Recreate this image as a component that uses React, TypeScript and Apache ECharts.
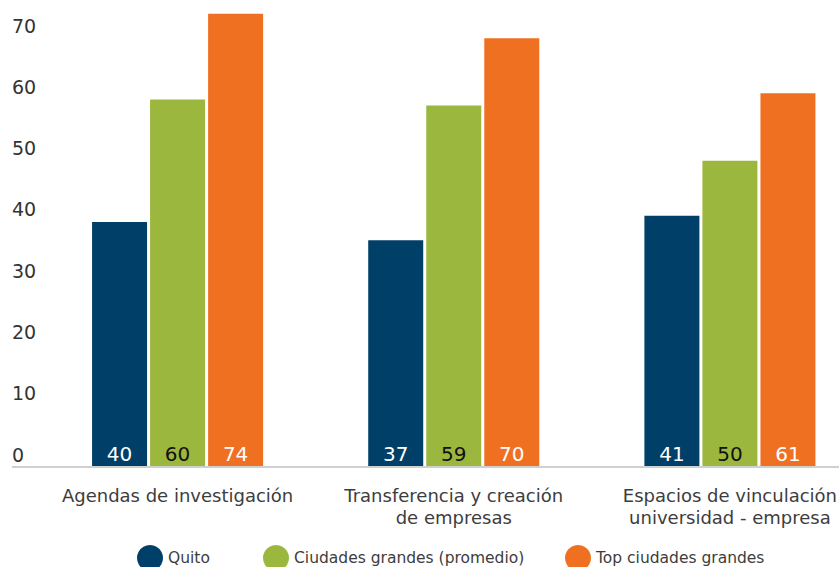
import React, { useEffect, useRef } from "react";
import * as echarts from "echarts";

const categories = [
  "Agendas de investigación",
  "Transferencia y creación\nde empresas",
  "Espacios de vinculación\nuniversidad - empresa",
];
const seriesNames = ["Quito", "Ciudades grandes (promedio)", "Top ciudades grandes"];
const quito = [40, 37, 41];
const ciudadesGrandes = [60, 59, 50];
const topCiudades = [74, 70, 61];
const colors = ["#003f67", "#9cb73d", "#f07022"];
const labelColors = ["#ffffff", "#111111", "#ffffff"];
const legendLefts = [132, 258, 560];

const FONT = "DejaVu Sans";

export default function App() {
  const ref = useRef<HTMLDivElement>(null);
  useEffect(() => {
    if (!ref.current) return;
    const chart = echarts.init(ref.current, undefined, { renderer: "svg" });
    const data = [quito, ciudadesGrandes, topCiudades];
    chart.setOption({
      animation: false,
      textStyle: { fontFamily: FONT },
      grid: { left: 39.5, right: 0, top: 0, bottom: 100, containLabel: false },
      legend: seriesNames.map((name, i) => ({
        left: legendLefts[i],
        top: 540,
        icon: "circle",
        itemWidth: 26,
        itemHeight: 26,
        itemGap: 0,
        textStyle: { fontSize: 15.5, color: "#3d3d3d", fontFamily: FONT },
        data: [name],
      })),
      xAxis: {
        type: "category",
        data: categories,
        axisLine: { show: false },
        axisTick: { show: false },
        axisLabel: {
          interval: 0,
          fontSize: 18,
          lineHeight: 22,
          color: "#3d3d3d",
          margin: 17,
          fontFamily: FONT,
        },
      },
      yAxis: {
        type: "value",
        min: 0,
        max: 76.24,
        interval: 10,
        splitLine: { show: false },
        axisLine: { show: false },
        axisTick: { show: false },
        axisLabel: {
          showMaxLabel: false,
          align: "left",
          verticalAlign: "bottom",
          margin: 27.5,
          fontSize: 19,
          color: "#333333",
          padding: [0, 0, 3, 0],
          fontFamily: FONT,
        },
      },
      graphic: [
        {
          type: "line",
          shape: { x1: 12, y1: 467, x2: 839, y2: 467 },
          style: { stroke: "#d0d0d0", lineWidth: 2 },
          z: 10,
        },
      ],
      series: seriesNames.map((name, i) => ({
        name,
        type: "bar",
        data: data[i],
        barWidth: 55,
        barGap: "5.5%",
        itemStyle: { color: colors[i] },
        label: {
          show: true,
          position: "insideBottom",
          distance: 3,
          fontSize: 20,
          color: labelColors[i],
          fontFamily: FONT,
        },
      })),
    });
    return () => chart.dispose();
  }, []);
  return (
    <div style={{ width: 839, height: 567, position: "absolute", left: 0, top: 0, overflow: "hidden" }}>
      <div ref={ref} style={{ width: 868, height: 567, position: "absolute", left: 0, top: 0 }} />
    </div>
  );
}
